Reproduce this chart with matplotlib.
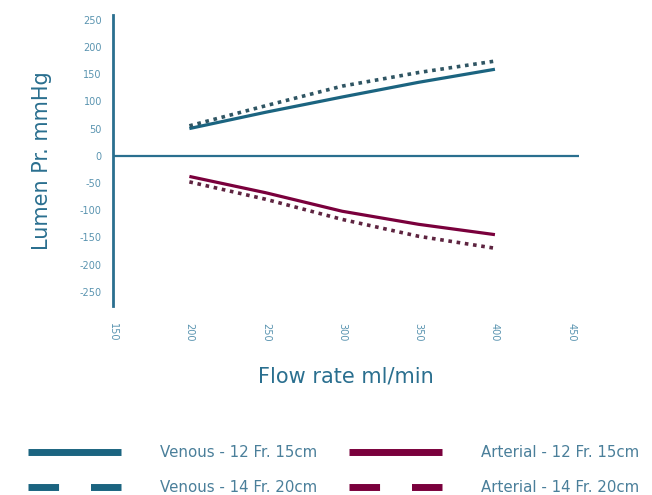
import matplotlib.pyplot as plt
from matplotlib.lines import Line2D

# data
flow = [200, 250, 300, 350, 400]
venous_12 = [50, 80, 108, 135, 159]
venous_14 = [55, 92, 128, 153, 174]
arterial_12 = [-38, -68, -102, -126, -145]
arterial_14 = [-48, -80, -117, -148, -170]
x_ticks = [150, 200, 250, 300, 350, 400, 450]
y_ticks = [250, 200, 150, 100, 50, 0, -50, -100, -150, -200, -250]
labels = ['Venous - 12 Fr. 15cm', 'Venous - 14 Fr. 20cm',
          'Arterial - 12 Fr. 15cm', 'Arterial - 14 Fr. 20cm']

venous_col = '#1b6480'
arterial_col = '#7a003c'
axis_col = '#2a6f8f'
tick_col = '#5a94b0'
text_col = '#4a7f9a'

fig = plt.figure(figsize=(6.52, 4.95), dpi=100)
ax = fig.add_axes([0.1733, 0.382, 0.7147, 0.588])

ax.plot(flow, venous_12, color=venous_col, lw=2.3, solid_capstyle='butt')
ax.plot(flow, venous_14, color='#2f5563', lw=2.6, linestyle=(0, (1, 1.3)))
ax.plot(flow, arterial_12, color=arterial_col, lw=2.3, solid_capstyle='butt')
ax.plot(flow, arterial_14, color='#5e2440', lw=2.6, linestyle=(0, (1, 1.3)))

ax.axhline(0, color=axis_col, lw=1.6)
ax.set_xlim(150, 455)
ax.set_ylim(-276, 259)

for s in ['top', 'right', 'bottom']:
    ax.spines[s].set_visible(False)
ax.spines['left'].set_color(axis_col)
ax.spines['left'].set_linewidth(2)

ax.set_xticks(x_ticks)
ax.set_xticklabels([str(v) for v in x_ticks], rotation=270, fontsize=7, color=tick_col)
ax.set_yticks(y_ticks)
ax.set_yticklabels([str(v) for v in y_ticks], fontsize=7, color=tick_col)
ax.tick_params(axis='x', length=0, pad=12)
ax.tick_params(axis='y', length=0, pad=8)

ax.set_xlabel('Flow rate ml/min', fontsize=15, color=axis_col, labelpad=18)
ax.set_ylabel('Lumen Pr. mmHg', fontsize=15, color=axis_col, labelpad=20)

# legend with thick bar handles
handles = [
    Line2D([], [], color=venous_col, lw=5, solid_capstyle='butt'),
    Line2D([], [], color=venous_col, lw=5, dash_capstyle='butt', linestyle=(0, (4.4, 4.6))),
    Line2D([], [], color=arterial_col, lw=5, solid_capstyle='butt'),
    Line2D([], [], color=arterial_col, lw=5, dash_capstyle='butt', linestyle=(0, (4.4, 4.6))),
]
leg = fig.legend(handles, labels, ncol=2, frameon=False, loc='upper left',
                 bbox_to_anchor=(0.043, 0.101), fontsize=10.8, handlelength=6.2,
                 handletextpad=2.6, columnspacing=2.1, labelspacing=1.35,
                 borderpad=0, borderaxespad=0)
for t in leg.get_texts():
    t.set_color(text_col)

fig.savefig('out.png', dpi=100)
